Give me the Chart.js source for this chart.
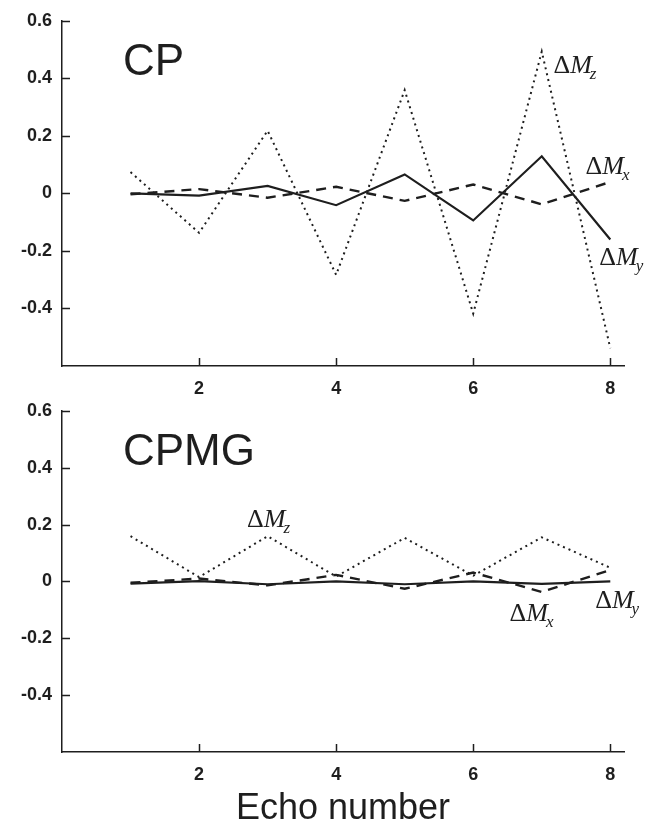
<!DOCTYPE html>
<html>
<head>
<meta charset="utf-8">
<script src="https://cdn.jsdelivr.net/npm/chart.js@4.4.0/dist/chart.umd.min.js"></script>
<style>
  html, body { margin: 0; padding: 0; background: #fff; }
  #wrap { position: relative; width: 646px; height: 832px; }
  .box { position: absolute; left: 0; width: 646px; }
  #top { top: 0; height: 400px; }
  #bottom { top: 390px; height: 442px; }
</style>
</head>
<body>
<div id="wrap">
  <div class="box" id="top"><canvas id="cp" width="646" height="400"></canvas></div>
  <div class="box" id="bottom"><canvas id="cpmg" width="646" height="442"></canvas></div>
</div>
<script>
// echo numbers and the three magnetisation errors
const echoes = [1, 2, 3, 4, 5, 6, 7, 8];

const cpMx = [-0.003, 0.015, -0.015, 0.023, -0.026, 0.031, -0.038, 0.040];
const cpMy = [0.000, -0.008, 0.026, -0.041, 0.066, -0.094, 0.129, -0.160];
const cpMz = [0.074, -0.137, 0.218, -0.283, 0.359, -0.418, 0.493, -0.538];

const cpmgMx = [-0.005, 0.010, -0.014, 0.023, -0.026, 0.031, -0.037, 0.040];
const cpmgMy = [-0.008, 0.001, -0.010, 0.000, -0.010, 0.000, -0.009, 0.000];
const cpmgMz = [0.159, 0.015, 0.159, 0.017, 0.153, 0.020, 0.155, 0.048];

const xTicks = [2, 4, 6, 8];
const yTicks = [-0.4, -0.2, 0, 0.2, 0.4, 0.6];

// curve labels (data coords of the label baseline)
const cpNotes = [
  { sub: 'z', x: 7.17, y: 0.418 },
  { sub: 'x', x: 7.64, y: 0.067 },
  { sub: 'y', x: 7.84, y: -0.249 }
];
const cpmgNotes = [
  { sub: 'z', x: 2.70, y: 0.190 },
  { sub: 'x', x: 6.53, y: -0.141 },
  { sub: 'y', x: 7.78, y: -0.093 }
];

const ink = '#1e1e1e';
const sans = '"Liberation Sans", Arial, sans-serif';
const serif = '"Liberation Serif", "Times New Roman", serif';

const decor = {
  id: 'decor',
  afterDraw(chart, args, opts) {
    const { ctx, chartArea: a, scales: { x, y } } = chart;
    ctx.save();
    // inward tick marks
    ctx.strokeStyle = ink;
    ctx.lineWidth = 1.5;
    ctx.beginPath();
    xTicks.forEach(v => {
      const px = Math.round(x.getPixelForValue(v)) + 0.5;
      ctx.moveTo(px, a.bottom);
      ctx.lineTo(px, a.bottom - 8);
    });
    yTicks.forEach(v => {
      const py = Math.round(y.getPixelForValue(v)) + 0.5;
      ctx.moveTo(a.left, py);
      ctx.lineTo(a.left + 8, py);
    });
    ctx.stroke();

    ctx.fillStyle = ink;
    ctx.textBaseline = 'alphabetic';
    ctx.textAlign = 'left';
    ctx.font = '44px ' + sans;
    ctx.fillText(opts.name, a.left + 61, a.top + 54);

    opts.notes.forEach(n => {
      let px = x.getPixelForValue(n.x);
      const py = y.getPixelForValue(n.y);
      ctx.font = '26px ' + serif;
      ctx.fillText('\u0394', px, py);
      px += ctx.measureText('\u0394').width;
      ctx.font = 'italic 26px ' + serif;
      ctx.fillText('M', px, py);
      px += ctx.measureText('M').width - 2;
      ctx.font = 'italic 17px ' + serif;
      ctx.fillText(n.sub, px, py + 6);
    });
    ctx.restore();
  }
};

function series(vals, dash, width) {
  return {
    data: echoes.map((e, i) => ({ x: e, y: vals[i] })),
    borderColor: ink,
    borderWidth: width,
    borderDash: dash,
    borderCapStyle: 'butt',
    pointRadius: 0,
    tension: 0,
    fill: false
  };
}

function makeChart(id, name, mx, my, mz, notes, padTop, xHeight, showTitle) {
  return new Chart(document.getElementById(id), {
    type: 'line',
    data: {
      datasets: [
        series(my, [], 2.2),
        series(mx, [10, 7], 2.4),
        series(mz, [2, 4], 2)
      ]
    },
    options: {
      responsive: false,
      animation: false,
      layout: { padding: { top: padTop, right: 22, bottom: 0, left: 0 } },
      plugins: {
        legend: { display: false },
        tooltip: { enabled: false },
        decor: { name: name, notes: notes }
      },
      scales: {
        x: {
          type: 'linear',
          min: 0,
          max: 8.2,
          afterBuildTicks: s => { s.ticks = xTicks.map(v => ({ value: v })); },
          afterFit: s => { s.height = xHeight; },
          grid: { display: false, drawTicks: false },
          border: { display: true, color: ink, width: 1.5 },
          ticks: {
            padding: 12,
            color: ink,
            font: { family: sans, size: 18, weight: 'bold' },
            maxRotation: 0,
            callback: v => String(v)
          },
          title: {
            display: showTitle,
            text: 'Echo number',
            color: ink,
            font: { family: sans, size: 36 },
            padding: { top: 0, bottom: 1 }
          }
        },
        y: {
          min: -0.6,
          max: 0.6,
          afterBuildTicks: s => { s.ticks = yTicks.map(v => ({ value: v })); },
          afterFit: s => { s.width = 62; },
          grid: { display: false, drawTicks: false },
          border: { display: true, color: ink, width: 1.5 },
          ticks: {
            padding: 10,
            color: ink,
            font: { family: sans, size: 18, weight: 'bold' },
            callback: v => (v === 0 ? '0' : v.toFixed(1))
          }
        }
      }
    },
    plugins: [decor]
  });
}

makeChart('cp', 'CP', cpMx, cpMy, cpMz, cpNotes, 17, 34, false);
makeChart('cpmg', 'CPMG', cpmgMx, cpmgMy, cpmgMz, cpmgNotes, 14, 80, true);
</script>
</body>
</html>
